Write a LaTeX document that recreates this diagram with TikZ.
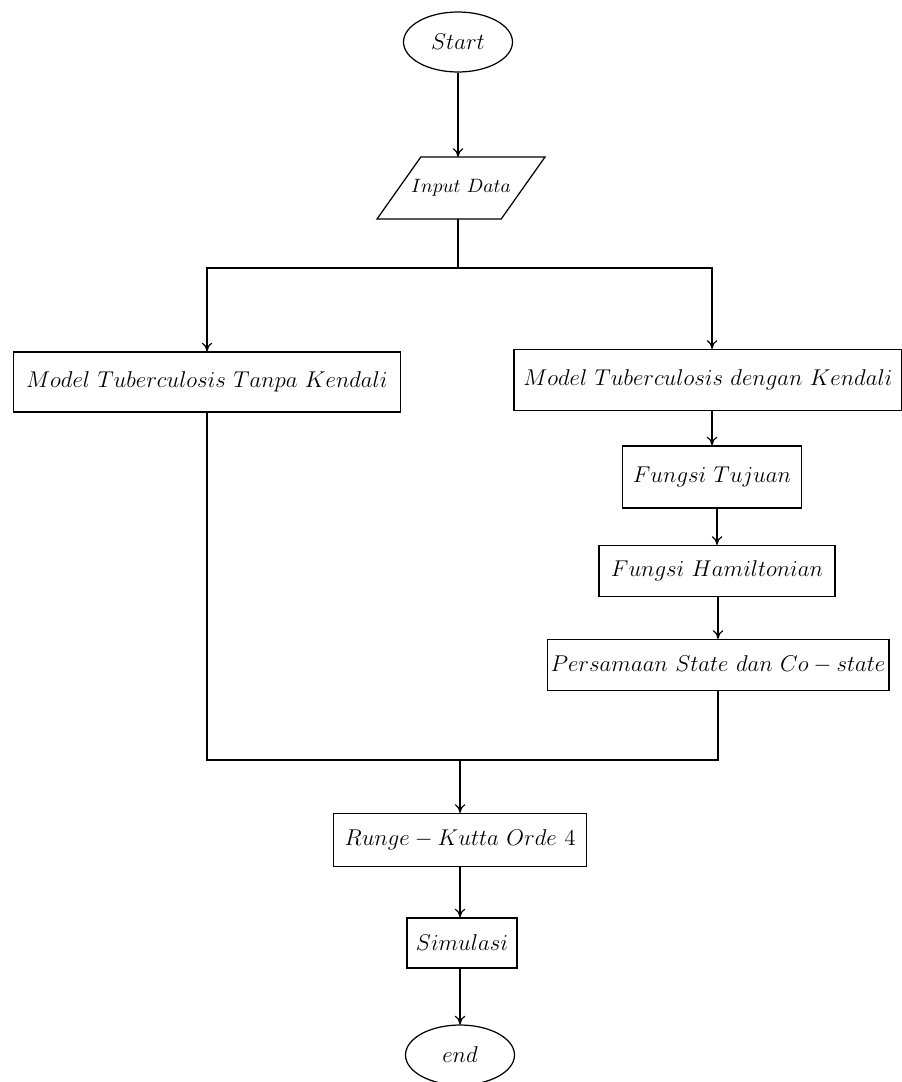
\documentclass[tikz,border=0pt]{standalone}
\usepackage{fix-cm}
\usetikzlibrary{shapes.geometric,positioning,arrows.meta}

\begin{document}
\begin{tikzpicture}[x=0.02cm,y=-0.02cm,font=\fontsize{13}{15}\selectfont,line width=0.7pt,
  >={To[length=5pt,width=6pt]},
  proses/.style={draw,rectangle,inner sep=2pt},
  terminal/.style={draw,ellipse,minimum width=2.18cm,minimum height=1.2cm,inner sep=1pt},
  masukan/.style={rectangle,minimum width=2.46cm,minimum height=1.22cm,inner sep=0pt,
    font=\fontsize{11}{13}\selectfont}]

\useasboundingbox (0,0) rectangle (902,1082);

%Mulai dan input

\node[terminal] (start) at (458,42) {$Start$};
\node[masukan] (input) at (461,188) {$Input\ Data$};
\draw ([xshift=-0.44cm]input.south west) -- ([xshift=0.44cm]input.north west)
  -- ([xshift=0.44cm]input.north east) -- ([xshift=-0.44cm]input.south east) -- cycle;

%Dua cabang model

\node[proses,minimum width=7.74cm,minimum height=1.2cm] (kiri) at (207,382) {$Model\ Tuberculosis\ Tanpa\ Kendali$};
\node[proses,minimum width=7.76cm,minimum height=1.22cm] (kanan) at (708,380) {$Model\ Tuberculosis\ dengan\ Kendali$};
\node[proses,minimum width=3.58cm,minimum height=1.24cm] (tujuan) at (712,477) {$Fungsi\ Tujuan$};
\node[proses,minimum width=4.72cm,minimum height=1.02cm] (hamilton) at (717,571) {$Fungsi\ Hamiltonian$};
\node[proses,minimum width=6.82cm,minimum height=1.02cm] (state) at (718,665) {$Persamaan\ State\ dan\ Co-state$};

%Penyelesaian

\node[proses,minimum width=5.06cm,minimum height=1.06cm] (rk) at (460,840) {$Runge-Kutta\ Orde\ 4$};
\node[proses,minimum width=2.2cm,minimum height=1.0cm] (simulasi) at (462,943) {$Simulasi$};
\node[terminal] (end) at (460,1055) {$end$};

\coordinate (cabang) at (458,268);
\coordinate (gabung) at (460,760);

\draw[->] (start) -- (start |- input.north);
\draw (input.south -| cabang) -- (cabang);
\draw[->] (cabang) -| (kiri);
\draw[->] (cabang) -| (tujuan |- kanan.north);
\draw[->] (kanan.south -| tujuan) -- (tujuan);
\draw[->] (tujuan.south -| hamilton) -- (hamilton);
\draw[->] (hamilton.south -| state) -- (state);
\draw (kiri) |- (gabung);
\draw (state) |- (gabung);
\draw[->] (gabung) -- (rk);
\draw[->] (rk) -- (simulasi.north -| rk);
\draw[->] (simulasi.south -| end) -- (end);

\end{tikzpicture}
\end{document}
